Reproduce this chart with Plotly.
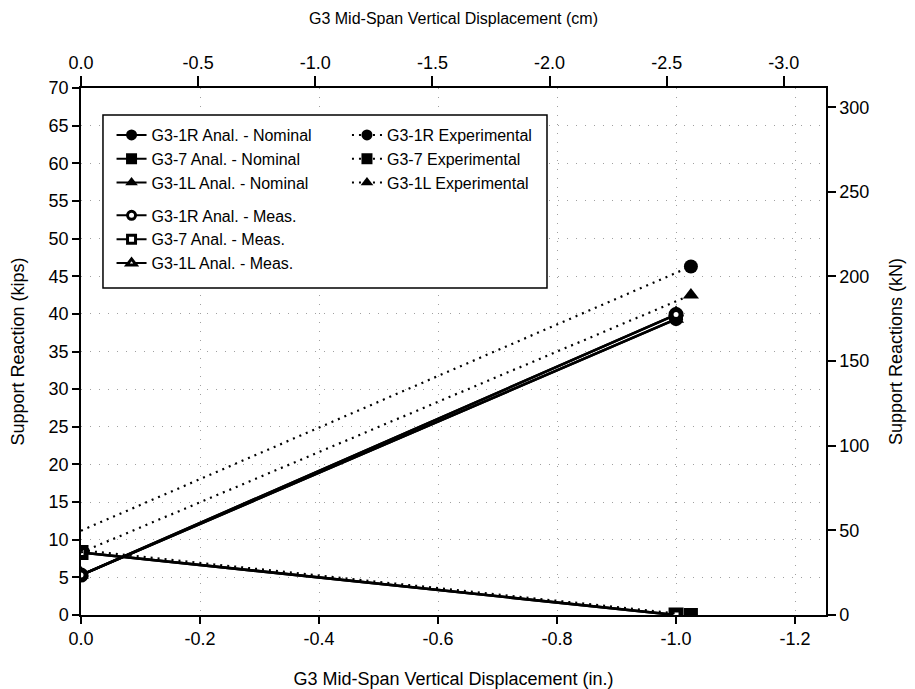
import plotly.graph_objects as go

# ---------------- data ----------------
disp_anal = [0.0, -1.0]          # in.
disp_exp = [0.0, -1.025]         # in.

r1_nominal = [5.3, 39.3]         # kips
g7_nominal = [8.3, 0.0]
l1_nominal = [5.3, 39.3]

r1_meas = [5.3, 39.9]
g7_meas = [8.3, 0.0]
l1_meas = [5.3, 39.9]

r1_exp = [11.2, 46.3]
g7_exp = [8.6, 0.0]
l1_exp = [8.3, 42.5]

x_ticks_in = [0.0, -0.2, -0.4, -0.6, -0.8, -1.0, -1.2]
x_ticks_in_txt = ["0.0", "-0.2", "-0.4", "-0.6", "-0.8", "-1.0", "-1.2"]
x_ticks_cm = [0.0, -0.5, -1.0, -1.5, -2.0, -2.5, -3.0]
x_ticks_cm_txt = ["0.0", "-0.5", "-1.0", "-1.5", "-2.0", "-2.5", "-3.0"]
y_ticks_kips = list(range(0, 75, 5))
y_ticks_kn = [0, 50, 100, 150, 200, 250, 300]

IN_TO_CM = 2.54
KIP_TO_KN = 4.448
X_MAX_IN = -1.252
Y_MAX_KIPS = 70

FONT = "Liberation Sans, Arial, Helvetica, sans-serif"
BLACK = "black"
LW = 2.6
DOT = "2px,5px"
MS = 14        # filled markers in plot
MS_OPEN = 10   # open (measured) markers in plot, drawn with thick outline
LMS = 11
LMS_OPEN = 8

fig = go.Figure()

def add_series(x, y, symbol, filled, dash, name, legend, group, end_only=False):
    base = MS if filled else MS_OPEN
    sizes = [0, base] if end_only else base
    fig.add_trace(go.Scatter(
        x=x, y=y, mode="lines+markers",
        line=dict(color=BLACK, width=LW if dash == "solid" else 2.2, dash=dash),
        marker=dict(symbol=symbol, size=sizes, opacity=1,
                    color=BLACK if filled else "white",
                    line=dict(color=BLACK, width=0 if filled else 5)),
        showlegend=False, hoverinfo="skip"))
    # legend entry
    fig.add_trace(go.Scatter(
        x=[None], y=[None], mode="lines+markers", name=name,
        legend=legend, legendgroup=group,
        line=dict(color=BLACK, width=2, dash=dash),
        marker=dict(symbol=symbol, size=LMS if filled else LMS_OPEN, opacity=1,
                    color=BLACK if filled else "white",
                    line=dict(color=BLACK, width=0 if filled else 3))))

# draw order: 1L first so 1R markers sit on top
add_series(disp_anal, l1_nominal, "triangle-up", True, "solid", "G3-1L Anal. - Nominal", "legend", "nom")
add_series(disp_anal, r1_nominal, "circle", True, "solid", "G3-1R Anal. - Nominal", "legend", "nom")
add_series(disp_anal, g7_nominal, "square", True, "solid", "G3-7 Anal. - Nominal", "legend", "nom")
add_series(disp_anal, l1_meas, "triangle-up", False, "solid", "G3-1L Anal. - Meas.", "legend", "meas")
add_series(disp_anal, r1_meas, "circle", False, "solid", "G3-1R Anal. - Meas.", "legend", "meas")
add_series(disp_anal, g7_meas, "square", False, "solid", "G3-7 Anal. - Meas.", "legend", "meas")
add_series(disp_exp, l1_exp, "triangle-up", True, DOT, "G3-1L Experimental", "legend2", "exp", end_only=True)
add_series(disp_exp, r1_exp, "circle", True, DOT, "G3-1R Experimental", "legend2", "exp", end_only=True)
add_series(disp_exp, g7_exp, "square", True, DOT, "G3-7 Experimental", "legend2", "exp", end_only=True)

# invisible traces carrying the secondary (cm / kN) axes
fig.add_trace(go.Scatter(x=[v * IN_TO_CM for v in disp_exp], y=r1_exp, xaxis="x2", yaxis="y",
                         mode="markers", marker=dict(opacity=0), showlegend=False, hoverinfo="skip"))
fig.add_trace(go.Scatter(x=disp_exp, y=[v * KIP_TO_KN for v in r1_exp], xaxis="x", yaxis="y2",
                         mode="markers", marker=dict(opacity=0), showlegend=False, hoverinfo="skip"))

rank = {"G3-1R Anal. - Nominal": 1, "G3-7 Anal. - Nominal": 2, "G3-1L Anal. - Nominal": 3,
        "G3-1R Anal. - Meas.": 4, "G3-7 Anal. - Meas.": 5, "G3-1L Anal. - Meas.": 6,
        "G3-1R Experimental": 1, "G3-7 Experimental": 2, "G3-1L Experimental": 3}
for tr in fig.data:
    if tr.name in rank:
        tr.legendrank = rank[tr.name]

axis_common = dict(showline=True, linecolor=BLACK, linewidth=1.5, ticks="outside",
                   tickcolor=BLACK, tickwidth=1.5, zeroline=False, automargin=False,
                   tickfont=dict(family=FONT, size=18, color=BLACK))
title_font = dict(family=FONT, size=18, color=BLACK)
GRID = dict(showgrid=True, gridcolor="#a0a0a0", griddash="1px,8px", gridwidth=1)

fig.update_layout(
    width=915, height=689,
    margin=dict(l=81, r=89, t=88, b=74),
    paper_bgcolor="white", plot_bgcolor="white",
    font=dict(family=FONT, color=BLACK),
    xaxis=dict(range=[0, X_MAX_IN], tickvals=x_ticks_in, ticktext=x_ticks_in_txt, ticklen=7,
               title=dict(text="G3 Mid-Span Vertical Displacement (in.)", standoff=27, font=title_font),
               **GRID, **axis_common),
    xaxis2=dict(range=[0, X_MAX_IN * IN_TO_CM], tickvals=x_ticks_cm, ticktext=x_ticks_cm_txt,
                overlaying="x", side="top", anchor="y", ticklen=10, showgrid=False,
                title=dict(text="G3 Mid-Span Vertical Displacement (cm)", standoff=24,
                           font=dict(family=FONT, size=16, color=BLACK)),
                **axis_common),
    yaxis=dict(range=[0, Y_MAX_KIPS], tickvals=y_ticks_kips, ticklen=7,
               title=dict(text="Support Reaction (kips)", standoff=19, font=title_font),
               **GRID, **axis_common),
    yaxis2=dict(range=[0, Y_MAX_KIPS * KIP_TO_KN], tickvals=y_ticks_kn, ticklen=8,
                overlaying="y", side="right", anchor="x", showgrid=False,
                title=dict(text="Support Reactions (kN)", standoff=21, font=title_font),
                **axis_common),
    legend=dict(x=0.041, y=0.943, xanchor="left", yanchor="top", bgcolor="rgba(0,0,0,0)",
                borderwidth=0, font=dict(family=FONT, size=16, color=BLACK),
                traceorder="grouped", tracegroupgap=9, itemwidth=30),
    legend2=dict(x=0.357, y=0.943, xanchor="left", yanchor="top", bgcolor="rgba(0,0,0,0)",
                 borderwidth=0, font=dict(family=FONT, size=16, color=BLACK),
                 traceorder="normal", itemwidth=30),
    shapes=[dict(type="rect", xref="paper", yref="paper", x0=0.0295, x1=0.6255,
                 y0=0.6205, y1=0.9488, line=dict(color=BLACK, width=1.5),
                 fillcolor="white", layer="above")],
    showlegend=True,
)

fig.write_html("out.html")
